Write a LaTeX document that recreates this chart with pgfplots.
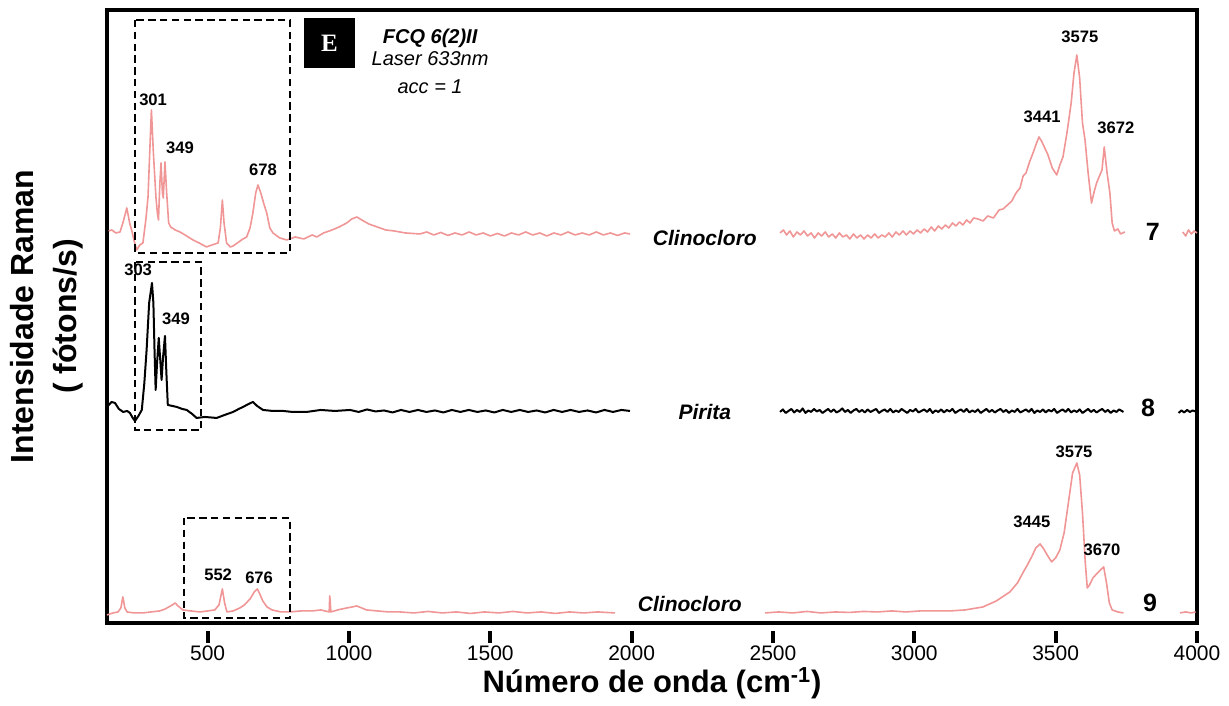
\documentclass[border=0pt]{standalone}
\usepackage{fontspec}
\setmainfont{Liberation Sans}
\newfontfamily\timesf{Liberation Serif}
\usepackage{pgfplots}
\pgfplotsset{compat=1.18}
\definecolor{rosa}{RGB}{240,150,150}

\begin{document}
\begin{tikzpicture}
\begin{axis}[
  scale only axis,
  width=545pt, height=306.5pt,
  xmin=144, xmax=4000, ymin=0, ymax=613,
  clip=false,
  axis line style={line width=1.8pt},
  xtick={500,1000,...,4000},
  ytick=\empty,
  xtick pos=bottom,
  major tick length=0pt,
  /pgf/number format/1000 sep={},
  /pgf/number format/assume math mode=true,
  xticklabel style={font=\fontsize{10.5}{12}\selectfont, yshift=-8pt},
  xlabel={Número de onda (cm\textsuperscript{-1})},
  xlabel style={at={(axis description cs:0.5,-0.098)}, anchor=center,
    font=\fontsize{15.5}{18}\selectfont\bfseries},
  ylabel={Intensidade Raman\\( fótons/s)},
  ylabel style={at={(axis description cs:-0.055,0.5)}, anchor=center, align=center,
    font=\fontsize{16}{21.5}\selectfont\bfseries},
  every axis plot/.append style={line join=round},
]
\path (rel axis cs:-0.0982,-0.1289) rectangle (rel axis cs:1.0294,1.0163);

% ---- espectro 7 (Clinocloro) ----
\addplot[rosa, line width=0.8pt] coordinates {
(150,392)(161,393)(175,390)(190,391)(200,400)(214,415)(224,400)(231,393)(240,382)(249,373)
(260,378)(271,380)(282,405)(289,426)(295,470)(301,513)(308,470)(317,426)(322,410)(326,403)
(331,440)(335,460)(340,430)(343,425)(349,461)(355,430)(362,400)(369,396)(385,393)(402,391)
(420,388)(448,383)(470,380)(496,376)(515,378)(537,380)(545,395)(552,423)(558,400)(567,380)
(580,376)(590,377)(610,381)(625,384)(638,386)(650,395)(660,410)(670,430)(678,438)(688,430)
(700,418)(709,410)(720,395)(731,390)(755,385)(780,383)(810,386)(840,384)(870,388)(886,386)
(910,390)(940,393)(965,396)(992,400)(1010,404)(1028,406)(1045,403)(1070,399)(1100,396)
(1130,393)(1160,392)(1200,390)(1251,389)(1275,391)(1300,388)(1325,390.5)(1350,387.5)
(1375,390)(1400,388)(1425,391)(1450,388)(1475,390)(1500,387)(1525,389.5)(1550,387)
(1575,390)(1600,388)(1625,391)(1650,388)(1675,390)(1700,387)(1725,390)(1750,388)
(1775,391)(1800,388)(1825,390)(1850,388)(1875,391)(1900,388)(1925,390)(1950,387.5)
(1975,390)(1994,389)
};
\addplot[rosa, line width=0.8pt] coordinates {
(2525,390)(2537,393)(2548,388)(2560,392)(2572,386)(2585,391)(2597,388)(2610,392)(2622,387)
(2635,390)(2647,385)(2660,390)(2672,387)(2685,391)(2697,386)(2710,389)(2722,385)(2735,390)
(2747,386)(2760,388)(2772,384)(2785,389)(2797,385)(2810,388)(2822,384)(2835,388)(2847,385)
(2860,389)(2872,385)(2885,388)(2897,386)(2910,390)(2922,386)(2935,391)(2947,388)(2960,392)
(2972,388)(2985,392)(2997,389)(3010,393)(3022,390)(3035,394)(3047,391)(3060,396)(3072,392)
(3085,397)(3097,394)(3110,398)(3122,395)(3135,400)(3147,397)(3160,401)(3172,398)(3185,403)
(3197,400)(3210,405)(3225,404)(3243,402)(3260,407)(3280,405)(3300,413)(3314,414)(3330,418)
(3345,422)(3360,430)(3374,435)(3385,447)(3395,450)(3409,462)(3420,470)(3430,478)(3441,486)
(3450,482)(3460,476)(3473,468)(3488,455)(3504,448)(3515,458)(3526,466)(3540,490)(3555,520)
(3565,550)(3575,568)(3585,545)(3595,500)(3604,483)(3615,450)(3627,420)(3637,432)(3645,440)
(3655,447)(3664,453)(3672,476)(3682,450)(3692,430)(3700,400)(3708,392)(3720,394)(3730,389)
(3745,391)
};
\addplot[rosa, line width=0.8pt] coordinates {
(3950,391)(3960,387)(3970,393)(3980,389)(3990,392)(4000,390)
};

% ---- espectro 8 (Pirita) ----
\addplot[black, line width=1pt] coordinates {
(144,216)(160,221)(172,220)(186,214)(201,211)(215,212)(225,210)(235,205)(243,202)(255,207)
(267,213)(276,240)(284,273)(293,320)(303,340)(308,320)(312,273)(316,233)(321,260)(327,285)
(333,260)(337,243)(342,265)(349,287)(354,250)(359,218)(375,217)(391,216)(410,214)(426,213)
(445,209)(461,205)(490,206)(532,205)(560,208)(590,211)(610,214)(625,216)(645,219)(660,221)
(675,217)(696,213)(730,212)(767,212)(800,211)(850,211)(900,213)(950,212)(1004,213)
(1034,211)(1064,213.5)(1094,211.5)(1124,212.5)(1154,210.5)(1184,213)(1214,211)(1244,213)
(1274,211)(1304,212.5)(1334,210.5)(1364,213)(1394,211)(1424,213)(1454,211)(1484,212.5)
(1514,210.5)(1544,213)(1574,211)(1604,213)(1634,211)(1664,212.5)(1694,210.5)(1724,213)
(1754,211)(1784,213)(1814,211)(1844,212.5)(1874,210.5)(1904,213)(1934,211)(1964,213)
(1994,212)
};
\addplot[black, line width=1pt] coordinates {
(2525,211)(2535,213.5)(2545,210)(2555,212)(2565,214)(2575,210.5)(2585,213)(2595,211)(2605,214.5)
(2615,210)(2625,212.5)(2635,211)(2645,214)(2655,211.5)(2665,213)(2675,210)(2685,212)(2695,214)
(2705,211)(2715,213.5)(2725,210.5)(2735,212)(2745,214.5)(2755,211)(2765,213)(2775,210)(2785,212.5)
(2795,214)(2805,211)(2815,213)(2825,210.5)(2835,213.5)(2845,211)(2855,212.5)(2865,214)(2875,210)
(2885,212)(2895,213.5)(2905,211)(2915,214)(2925,210.5)(2935,212.5)(2945,211)(2955,214)(2965,212)
(2975,210)(2985,213)(2995,211.5)(3005,214)(3015,210.5)(3025,212)(3035,213.5)(3045,211)(3055,214)
(3065,210)(3075,212.5)(3085,211)(3095,213.5)(3105,210.5)(3115,213)(3125,211.5)(3135,214)(3145,210)
(3155,212)(3165,213.5)(3175,211)(3185,214)(3195,210.5)(3205,212.5)(3215,211)(3225,213.5)(3235,210)
(3245,212)(3255,214)(3265,211)(3275,213)(3285,210.5)(3295,212.5)(3305,214)(3315,211)(3325,213)
(3335,210)(3345,212.5)(3355,211)(3365,214)(3375,210.5)(3385,212)(3395,213.5)(3405,211)(3415,214)
(3425,210)(3435,212.5)(3445,211)(3455,213.5)(3465,210.5)(3475,213)(3485,211.5)(3495,214)(3505,210)
(3515,212)(3525,213.5)(3535,211)(3545,214)(3555,210.5)(3565,212.5)(3575,211)(3585,213.5)(3595,210)
(3605,212)(3615,214)(3625,211)(3635,213)(3645,210.5)(3655,212.5)(3665,214)(3675,211)(3685,213)
(3695,210)(3705,212.5)(3715,211)(3725,213.5)(3740,211)
};
\addplot[black, line width=1pt] coordinates {
(3935,210)(3945,212.5)(3955,210.5)(3965,213)(3975,211)(3985,212.5)(4000,211)
};

% ---- espectro 9 (Clinocloro) ----
\addplot[rosa, line width=0.8pt] coordinates {
(144,8)(165,10)(183,11)(193,15)(200,26)(207,15)(215,11)(240,10)(271,10)(300,11)(330,12)
(350,14)(375,18)(385,20)(395,17)(412,13)(440,12)(473,11)(500,12)(525,13)(540,18)(552,34)
(560,20)(568,11)(590,12)(614,15)(630,18)(650,24)(665,31)(676,34)(686,28)(695,22)(710,16)
(728,13)(760,11)(790,11)(830,12)(870,12)(900,13)(930,11)(932,27)(936,11)(960,13)(992,15)
(1012,16)(1027,17)(1045,15)(1062,13)(1100,12)(1140,11)(1180,11)(1230,10)(1280,11.5)
(1330,10)(1380,11)(1430,9.5)(1480,11)(1530,10)(1580,11.5)(1630,10)(1680,11)(1730,9.5)
(1780,11)(1830,10)(1880,11)(1941,10)
};
\addplot[rosa, line width=0.8pt] coordinates {
(2472,10)(2520,11)(2570,10)(2620,11.5)(2670,10)(2720,11)(2770,10.5)(2820,11.5)(2870,11)
(2920,12)(2970,11)(3020,12)(3070,12)(3126,12)(3180,13)(3243,16)(3290,22)(3338,31)(3365,40)
(3384,50)(3400,58)(3415,66)(3430,75)(3445,79)(3458,74)(3470,68)(3486,61)(3500,65)(3515,73)
(3530,90)(3545,120)(3560,150)(3575,160)(3585,148)(3595,110)(3605,60)(3612,35)(3620,38)
(3632,45)(3648,50)(3662,54)(3670,56)(3680,40)(3690,20)(3700,13)(3720,11)(3740,10)
};
\addplot[rosa, line width=0.8pt] coordinates {
(3940,10)(3960,11)(3980,10)(3995,11)
};

% ---- marcas dos ticks (retângulos preenchidos) ----
\fill[black] (axis cs:493,-8) rectangle (axis cs:507,-20);
\fill[black] (axis cs:993,-8) rectangle (axis cs:1007,-20);
\fill[black] (axis cs:1493,-8) rectangle (axis cs:1507,-20);
\fill[black] (axis cs:1993,-8) rectangle (axis cs:2007,-20);
\fill[black] (axis cs:2493,-8) rectangle (axis cs:2507,-20);
\fill[black] (axis cs:2993,-8) rectangle (axis cs:3007,-20);
\fill[black] (axis cs:3493,-8) rectangle (axis cs:3507,-20);
\fill[black] (axis cs:3993,-8) rectangle (axis cs:4007,-20);

% ---- caixas tracejadas ----
\draw[line width=1.1pt, dash pattern=on 3.7pt off 2.2pt]
  (axis cs:243,603) rectangle (axis cs:791,370);
\draw[line width=1.1pt, dash pattern=on 3.7pt off 2.2pt]
  (axis cs:243,361) rectangle (axis cs:477,193);
\draw[line width=1.1pt, dash pattern=on 3.7pt off 2.2pt]
  (axis cs:416,105) rectangle (axis cs:791,5);

% ---- rótulos ----
\begin{scope}[every node/.style={font=\fontsize{8.3}{10}\selectfont\bfseries, inner sep=0pt}]
\node at (axis cs:307,523) {301};
\node at (axis cs:402,475) {349};
\node at (axis cs:696,453) {678};
\node at (axis cs:3452,506) {3441};
\node at (axis cs:3586,586) {3575};
\node at (axis cs:3713,495) {3672};
\node at (axis cs:254,353) {303};
\node at (axis cs:388,304) {349};
\node at (axis cs:537,48) {552};
\node at (axis cs:682,45) {676};
\node at (axis cs:3416,101) {3445};
\node at (axis cs:3565,171) {3575};
\node at (axis cs:3664,73) {3670};
\end{scope}
\begin{scope}[every node/.style={font=\fontsize{10.5}{12}\selectfont\bfseries\itshape, inner sep=0pt}]
\node at (axis cs:2259,385) {Clinocloro};
\node at (axis cs:2259,211) {Pirita};
\node at (axis cs:2206,19) {Clinocloro};
\end{scope}
\begin{scope}[every node/.style={font=\fontsize{12.5}{14}\selectfont\bfseries, inner sep=0pt}]
\node at (axis cs:3844,391) {7};
\node at (axis cs:3827,215) {8};
\node at (axis cs:3834,20) {9};
\end{scope}
\node[fill=black, text=white, minimum width=25.5pt, minimum height=25pt, inner sep=0pt,
  font=\timesf\fontsize{12.5}{14}\selectfont\bfseries] at (axis cs:931,580) {E};
\node[font=\fontsize{10}{12}\selectfont\bfseries\itshape, inner sep=0pt] at (axis cs:1287,585) {FCQ 6(2)II};
\node[font=\fontsize{10}{12}\selectfont\itshape, inner sep=0pt] at (axis cs:1287,564) {Laser 633nm};
\node[font=\fontsize{10}{12}\selectfont\itshape, inner sep=0pt] at (axis cs:1287,536) {acc = 1};
\end{axis}
\end{tikzpicture}
\end{document}
